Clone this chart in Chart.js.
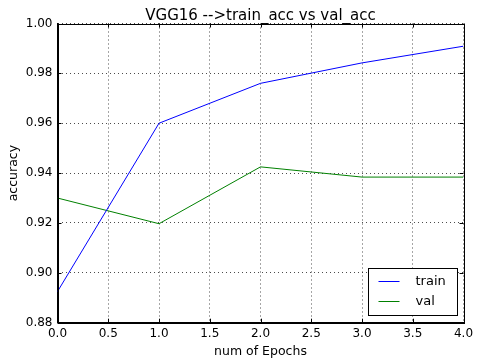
<!DOCTYPE html>
<html>
<head>
<meta charset="utf-8">
<script src="https://cdn.jsdelivr.net/npm/chart.js@4/dist/chart.umd.min.js"></script>
<style>
  html, body { margin: 0; padding: 0; background: #fff; }
  #wrap { width: 480px; height: 364px; }
</style>
</head>
<body>
<div id="wrap"><canvas id="accChart" width="480" height="364"></canvas></div>
<script>
// datos
const epochs = [0, 1, 2, 3, 4];
const trainAcc = [0.8925, 0.960, 0.976, 0.9842, 0.9909];
const valAcc = [0.930, 0.9197, 0.9425, 0.9384, 0.9384];
const xTicks = [0, 0.5, 1, 1.5, 2, 2.5, 3, 3.5, 4];
const yTicks = [0.88, 0.90, 0.92, 0.94, 0.96, 0.98, 1.00];
const seriesNames = ['train', 'val'];
const seriesColors = ['#0000ff', '#008000'];
const chartTitle = 'VGG16 -->train_acc vs val_acc';

const FONT = 'DejaVu Sans';

// marco completo + ticks hacia adentro (estilo matplotlib clasico)
const frameTicks = {
    id: 'frameTicks',
    afterDraw(chart) {
        const { ctx, chartArea: a, scales } = chart;
        ctx.save();
        ctx.strokeStyle = '#000';
        ctx.lineWidth = 1;
        ctx.beginPath();
        xTicks.forEach(v => {
            const x = Math.round(scales.x.getPixelForValue(v)) + 0.5;
            ctx.moveTo(x, a.bottom); ctx.lineTo(x, a.bottom - 4);
            ctx.moveTo(x, a.top); ctx.lineTo(x, a.top + 4);
        });
        yTicks.forEach(v => {
            const y = Math.round(scales.y.getPixelForValue(v)) + 0.5;
            ctx.moveTo(a.left, y); ctx.lineTo(a.left + 4, y);
            ctx.moveTo(a.right, y); ctx.lineTo(a.right - 4, y);
        });
        ctx.stroke();
        ctx.strokeRect(Math.round(a.left) + 0.5, Math.round(a.top) + 0.5,
            Math.round(a.right - a.left), Math.round(a.bottom - a.top));

        // titulo centrado sobre el area de la grafica
        ctx.fillStyle = '#000';
        ctx.font = '15px "' + FONT + '"';
        ctx.textAlign = 'center';
        ctx.textBaseline = 'alphabetic';
        ctx.fillText(chartTitle, (a.left + a.right) / 2, a.top - 4);
        ctx.restore();
    }
};

// leyenda dentro del area, esquina inferior derecha
const boxLegend = {
    id: 'boxLegend',
    afterDraw(chart) {
        const { ctx, chartArea: a } = chart;
        const w = 89, h = 47;
        const left = Math.round(a.right - 7 - w) + 0.5;
        const top = Math.round(a.bottom - 8 - h) + 0.5;
        ctx.save();
        ctx.fillStyle = '#fff';
        ctx.fillRect(left, top, w, h);
        ctx.strokeStyle = '#000';
        ctx.lineWidth = 1;
        ctx.strokeRect(left, top, w, h);
        ctx.font = '13px "' + FONT + '"';
        ctx.textAlign = 'left';
        ctx.textBaseline = 'middle';
        seriesNames.forEach((name, i) => {
            const y = Math.round(top + 12 + i * 20) + 0.5;
            ctx.strokeStyle = seriesColors[i];
            ctx.beginPath();
            ctx.moveTo(left + 10, y);
            ctx.lineTo(left + 31, y);
            ctx.stroke();
            ctx.fillStyle = '#000';
            ctx.fillText(name, left + 47, y);
        });
        ctx.restore();
    }
};

Chart.defaults.color = '#000';
Chart.defaults.font.family = FONT;

const ctx = document.getElementById('accChart');

new Chart(ctx, {
    type: 'line',
    data: {
        datasets: seriesNames.map((name, i) => ({
            label: name,
            data: epochs.map((e, j) => ({ x: e, y: (i === 0 ? trainAcc : valAcc)[j] })),
            borderColor: seriesColors[i],
            backgroundColor: seriesColors[i],
            borderWidth: 1,
            pointRadius: 0,
            tension: 0,
            fill: false
        }))
    },
    options: {
        responsive: false,
        animation: false,
        layout: {
            padding: { top: 23.5, right: 16.5, left: 0, bottom: 0 }
        },
        scales: {
            x: {
                type: 'linear',
                min: 0,
                max: 4,
                afterBuildTicks: scale => { scale.ticks = xTicks.map(v => ({ value: v })); },
                afterFit: scale => { scale.height = 41.3; },
                ticks: {
                    padding: 4,
                    maxRotation: 0,
                    font: { size: 12 },
                    callback: v => Number(v).toFixed(1)
                },
                grid: {
                    color: 'rgba(0,0,0,0.7)',
                    lineWidth: 1,
                    drawTicks: false
                },
                border: { color: '#000', width: 1, dash: [1, 3] },
                title: {
                    display: true,
                    text: 'num of Epochs',
                    font: { size: 12.5 },
                    padding: { top: 0, bottom: 5 }
                }
            },
            y: {
                type: 'linear',
                min: 0.88,
                max: 1.0,
                afterBuildTicks: scale => { scale.ticks = yTicks.map(v => ({ value: v })); },
                afterFit: scale => { scale.width = 57.5; },
                ticks: {
                    padding: 5,
                    font: { size: 12 },
                    callback: v => Number(v).toFixed(2)
                },
                grid: {
                    color: 'rgba(0,0,0,0.7)',
                    lineWidth: 1,
                    drawTicks: false
                },
                border: { color: '#000', width: 1, dash: [1, 3] },
                title: {
                    display: true,
                    text: 'accuracy',
                    font: { size: 12.5 },
                    padding: { top: 6, bottom: 0 }
                }
            }
        },
        plugins: {
            legend: { display: false },
            title: { display: false },
            tooltip: { enabled: false }
        }
    },
    plugins: [frameTicks, boxLegend]
});
</script>
</body>
</html>
